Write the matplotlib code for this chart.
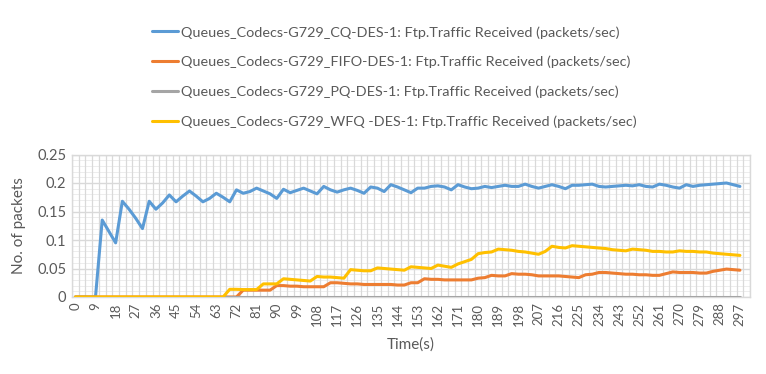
import matplotlib
matplotlib.use("Agg")
import matplotlib.pyplot as plt
import numpy as np

plt.rcParams['font.family'] = ['Lato', 'DejaVu Sans']

# time axis: one sample every 3 s
time_s = list(range(0, 300, 3))

cq = [0, 0, 0, 0, 0.135, 0.115, 0.095, 0.168, 0.154, 0.138,
      0.120, 0.168, 0.154, 0.165, 0.179, 0.167, 0.177, 0.186, 0.177, 0.167,
      0.173, 0.182, 0.175, 0.167, 0.188, 0.182, 0.185, 0.191, 0.186, 0.181,
      0.173, 0.189, 0.183, 0.187, 0.191, 0.186, 0.181, 0.194, 0.188, 0.184,
      0.188, 0.191, 0.187, 0.182, 0.193, 0.191, 0.185, 0.197, 0.193, 0.188,
      0.183, 0.191, 0.191, 0.194, 0.195, 0.193, 0.188, 0.197, 0.193, 0.190,
      0.191, 0.194, 0.192, 0.194, 0.196, 0.194, 0.194, 0.198, 0.194, 0.191,
      0.194, 0.197, 0.194, 0.190, 0.196, 0.196, 0.197, 0.198, 0.194, 0.193,
      0.194, 0.195, 0.196, 0.195, 0.197, 0.194, 0.193, 0.198, 0.196, 0.193,
      0.191, 0.197, 0.194, 0.196, 0.197, 0.198, 0.199, 0.200, 0.197, 0.194]

fifo = [0, 0, 0, 0, 0, 0, 0, 0, 0, 0,
        0, 0, 0, 0, 0, 0, 0, 0, 0, 0,
        0, 0, 0, 0, 0, 0.012, 0.012, 0.012, 0.012, 0.012,
        0.020, 0.020, 0.019, 0.019, 0.018, 0.018, 0.018, 0.018, 0.025, 0.025,
        0.024, 0.023, 0.023, 0.022, 0.022, 0.022, 0.022, 0.022, 0.021, 0.021,
        0.025, 0.025, 0.032, 0.031, 0.031, 0.030, 0.030, 0.030, 0.030, 0.030,
        0.033, 0.034, 0.038, 0.037, 0.037, 0.041, 0.040, 0.040, 0.039, 0.037,
        0.037, 0.037, 0.037, 0.036, 0.035, 0.034, 0.039, 0.040, 0.043, 0.043,
        0.042, 0.041, 0.040, 0.040, 0.039, 0.039, 0.038, 0.038, 0.041, 0.044,
        0.043, 0.043, 0.043, 0.042, 0.042, 0.045, 0.047, 0.049, 0.048, 0.047]

pq = [0] * 100

wfq = [0, 0, 0, 0, 0, 0, 0, 0, 0, 0,
       0, 0, 0, 0, 0, 0, 0, 0, 0, 0,
       0, 0, 0, 0.0135, 0.0135, 0.013, 0.013, 0.013, 0.023, 0.023,
       0.023, 0.032, 0.031, 0.030, 0.029, 0.028, 0.036, 0.035, 0.035, 0.034,
       0.033, 0.048, 0.047, 0.046, 0.046, 0.051, 0.050, 0.049, 0.048, 0.047,
       0.053, 0.052, 0.051, 0.050, 0.056, 0.054, 0.052, 0.058, 0.062, 0.066,
       0.076, 0.078, 0.079, 0.084, 0.083, 0.082, 0.080, 0.079, 0.077, 0.075,
       0.080, 0.089, 0.087, 0.086, 0.090, 0.089, 0.088, 0.087, 0.086, 0.085,
       0.083, 0.082, 0.081, 0.084, 0.083, 0.082, 0.080, 0.080, 0.079, 0.079,
       0.081, 0.080, 0.080, 0.079, 0.079, 0.077, 0.076, 0.075, 0.074, 0.073]

labels = ["Queues_Codecs-G729_CQ-DES-1: Ftp.Traffic Received (packets/sec)",
          "Queues_Codecs-G729_FIFO-DES-1: Ftp.Traffic Received (packets/sec)",
          "Queues_Codecs-G729_PQ-DES-1: Ftp.Traffic Received (packets/sec)",
          "Queues_Codecs-G729_WFQ -DES-1: Ftp.Traffic Received (packets/sec)"]
colors = ['#5B9BD5', '#ED7D31', '#A5A5A5', '#FFC000']

txt = '#595959'
fig = plt.figure(figsize=(7.66, 3.74), dpi=100)
ax = fig.add_axes([72 / 766, 1 - 297 / 374, 678 / 766, 142.5 / 374])

# grid: vertical lines between categories, horizontal major + minor
for gx in np.arange(-1.5, 302, 3):
    ax.axvline(gx, color='#D9D9D9', lw=0.9, zorder=1)
for gy in np.arange(0, 0.251, 0.01):
    ax.axhline(gy, color='#EDEDED', lw=0.7, zorder=0.5)
for gy in np.arange(0, 0.251, 0.05):
    ax.axhline(gy, color='#D9D9D9', lw=1.0, zorder=1)

series = [cq, fifo, pq, wfq]
for vals, lab, col in zip(series, labels, colors):
    ax.plot(time_s, vals, color=col, lw=2.2, label=lab, zorder=3,
            solid_joinstyle='round', solid_capstyle='round')

ax.set_xlim(-1.5, 301.5)
ax.set_ylim(0, 0.25)
ax.set_xticks(range(0, 300, 9))
ax.set_xticklabels([str(t) for t in range(0, 300, 9)], rotation=90,
                   fontsize=9.5, color=txt)
ax.set_yticks([0, 0.05, 0.1, 0.15, 0.2, 0.25])
ax.set_yticklabels(['0', '0.05', '0.1', '0.15', '0.2', '0.25'],
                   fontsize=10.5, color=txt)
ax.tick_params(length=0, pad=4)
for sp in ax.spines.values():
    sp.set_color('#D9D9D9')
    sp.set_linewidth(1.0)

ax.set_xlabel('Time(s)', fontsize=11, color=txt, labelpad=8)
ax.set_ylabel('No. of packets', fontsize=11, color=txt, labelpad=8)

fig.legend(loc='upper left', bbox_to_anchor=(139 / 766, 1 - 13 / 374),
           frameon=False, fontsize=10.4, labelcolor=txt, handlelength=1.8,
           handletextpad=0.2, labelspacing=1.2)

fig.savefig('out.png', dpi=100)
